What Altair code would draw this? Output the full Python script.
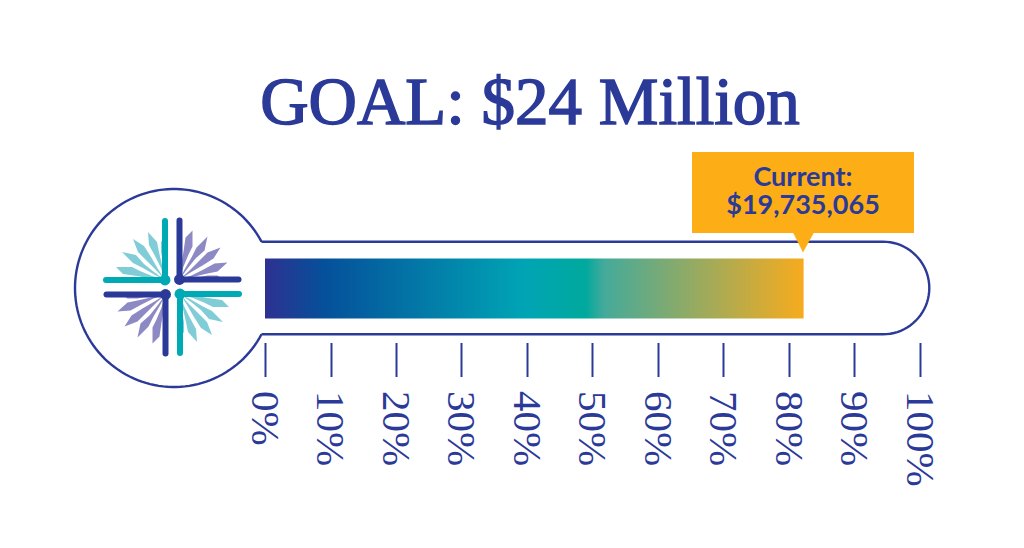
import math
import altair as alt
import pandas as pd

# ---- values
GOAL = 24000000
CURRENT = 19735065
TICKS = [0, 10, 20, 30, 40, 50, 60, 70, 80, 90, 100]
TITLE = "GOAL: $24 Million"
CALLOUT = ["Current:", "$19,735,065"]

NAVY = "#2b3a98"
TEAL = "#00aab4"
LIGHT_TEAL = "#80ccd7"
LAVENDER = "#8d89c4"
ORANGE = "#fdae17"
GRAD_OFFSETS = [0, 0.11, 0.48, 0.595, 0.63, 1]
GRAD_COLORS = ["#2e3192", "#05509a", "#00a4b5", "#00a99d", "#45aa9a", "#f7ab1e"]

# one percent of the goal is 6.55 px; y uses the same unit so that the bulb is round
UNIT = 6.55
def X(px): return (px - 265) / UNIT
def Y(py): return (288 - py) / UNIT

sx = alt.Scale(domain=[X(8), X(1016)], nice=False, zero=False)
sy = alt.Scale(domain=[Y(540), Y(8)], nice=False, zero=False)
AXIS = alt.Axis(
    values=TICKS, labelExpr="datum.value + '%'", domain=False, grid=False,
    offset=-197.5, tickSize=34, tickWidth=2, tickColor=NAVY,
    labelAngle=90, labelAlign="left", labelBaseline="middle", labelPadding=14,
    labelFont="Liberation Serif", labelFontSize=41, labelColor=NAVY, labelOffset=-2,
    labelOverlap=False, labelFlush=False)
xq = lambda f="x", **k: alt.X(f"{f}:Q", scale=sx, axis=AXIS, title=None, **k)
yq = lambda f="y", **k: alt.Y(f"{f}:Q", scale=sy, axis=None, title=None, **k)
x2q = alt.X2("x2:Q")
y2q = alt.Y2("y2:Q")

# ---- thermometer outline
CX, CY, R = 174, 288, 99
TUBE_R = 46.3
TUBE_END = 883
def outline():
    pts = [(261.5, CY - TUBE_R), (TUBE_END, CY - TUBE_R)]
    for i in range(1, 40):
        a = -math.pi / 2 + math.pi * i / 40
        pts.append((TUBE_END + TUBE_R * math.cos(a), CY + TUBE_R * math.sin(a)))
    pts += [(TUBE_END, CY + TUBE_R), (261.5, CY + TUBE_R)]
    a0 = math.asin(TUBE_R / R)
    for i in range(0, 121):
        a = a0 + (2 * math.pi - 2 * a0) * i / 120
        pts.append((CX + R * math.cos(a), CY + R * math.sin(a)))
    return pd.DataFrame([{"x": X(a), "y": Y(b), "o": i} for i, (a, b) in enumerate(pts)])

shell = alt.Chart(outline()).mark_line(color=NAVY, strokeWidth=2.4).encode(
    x=xq(), y=yq(), order="o:Q")

# ---- gradient bar
bar = alt.Chart(pd.DataFrame([{
    "x": 0, "x2": CURRENT / GOAL * 100, "y": Y(258.5), "y2": Y(318.5)}])).mark_rect(
    fill=alt.Gradient(gradient="linear", x1=0, x2=1, y1=0, y2=0,
                      stops=[alt.GradientStop(offset=o, color=c)
                             for o, c in zip(GRAD_OFFSETS, GRAD_COLORS)])
).encode(x=xq(), x2=x2q, y=yq(), y2=y2q)

# ---- callout
box = alt.Chart(pd.DataFrame([{"x": X(692), "x2": X(914), "y": Y(152), "y2": Y(233)}])).mark_rect(
    fill=ORANGE).encode(x=xq(), x2=x2q, y=yq(), y2=y2q)

PTR = [(793, 232), (814, 232), (803, 252)]
pointer = alt.Chart(pd.DataFrame([{"x": X(a), "y": Y(b), "o": i} for i, (a, b) in enumerate(PTR)])).mark_line(
    fill=ORANGE, stroke=ORANGE, strokeWidth=0.5, interpolate="linear-closed").encode(
    x=xq(), y=yq(), order="o:Q")

callout_text = alt.Chart(pd.DataFrame([
    {"x": X(803), "y": Y(186), "t": CALLOUT[0]},
    {"x": X(803), "y": Y(214), "t": CALLOUT[1]},
])).mark_text(font="Lato", fontWeight="bold", fontSize=27, color=NAVY, align="center",
              baseline="alphabetic").encode(x=xq(), y=yq(), text="t:N")

title = alt.Chart(pd.DataFrame([{"x": X(530), "y": Y(124), "t": TITLE}])).mark_text(
    font="Liberation Serif", fontSize=67, color=NAVY, stroke=NAVY, strokeWidth=1.5,
    align="center", baseline="alphabetic").encode(x=xq(), y=yq(), text="t:N")

# ---- logo: four quarter-turned copies
LOGO_C = (172.5, 287)
BLADES = [
    [(0, 0), (-2, -18), (-4, -28), (-4, -38), (0, -44), (1, -20)],
    [(0, 0), (-3, -15), (-6, -28), (-8, -38), (-17, -48), (-16, -35), (-10, -24), (-4, -12)],
    [(0, 0), (-7, -11), (-14, -23), (-21, -34), (-32, -41), (-27, -28), (-18, -19), (-8, -9)],
    [(0, 0), (-11, -8), (-21, -16), (-29, -25), (-43, -28), (-32, -17), (-22, -12), (-10, -5)],
    [(0, 0), (-13, -4), (-25, -9), (-33, -13), (-49, -13), (-42, -6), (-28, -4), (-12, -1)],
]
def turn(px, py, k):
    dx, dy = px - LOGO_C[0], py - LOGO_C[1]
    for _ in range(k):
        dx, dy = -dy, dx
    return LOGO_C[0] + dx, LOGO_C[1] + dy

ORIGIN = (165, 280)
rows, bars, dots = [], [], []
for k in range(4):
    petal = LIGHT_TEAL if k % 2 == 0 else LAVENDER
    for b, blade in enumerate(BLADES):
        for i, (dx, dy) in enumerate(blade):
            a, c = turn(ORIGIN[0] + dx, ORIGIN[1] + dy, k)
            rows.append({"x": X(a), "y": Y(c), "o": i, "id": f"{k}-{b}", "col": petal})
    main = TEAL if k % 2 == 0 else NAVY
    a1, c1 = turn(165, 221, k)
    a2, c2 = turn(165, 280, k)
    bars.append({"x": X(a1), "y": Y(c1), "x2": X(a2), "y2": Y(c2), "col": main})
    a3, c3 = turn(106, 280, k)
    bars.append({"x": X(a3), "y": Y(c3), "x2": X(a2), "y2": Y(c2), "col": main})
    dots.append({"x": X(a2), "y": Y(c2), "col": main})

identity = alt.Color("col:N", scale=None, legend=None)
petals = []
for pid, g in pd.DataFrame(rows).groupby("id"):
    petals.append(alt.Chart(g).mark_line(
        fill=g["col"].iloc[0], strokeWidth=0, interpolate="linear-closed"
    ).encode(x=xq(), y=yq(), order="o:Q"))

arms = alt.Chart(pd.DataFrame(bars)).mark_rule(strokeWidth=6, strokeCap="round").encode(
    x=xq(), x2=x2q, y=yq(), y2=y2q, color=identity)
hubs = alt.Chart(pd.DataFrame(dots)).mark_circle(size=120, opacity=1).encode(
    x=xq(), y=yq(), color=identity)

chart = alt.layer(shell, bar, box, pointer, callout_text, title, *petals, arms, hubs).properties(
    width=1008, height=532, padding=0, background="white",
    autosize=alt.AutoSizeParams(type="none")
).configure_view(stroke=None)

chart.save("out.html", embed_options={"renderer": "svg", "actions": False})
